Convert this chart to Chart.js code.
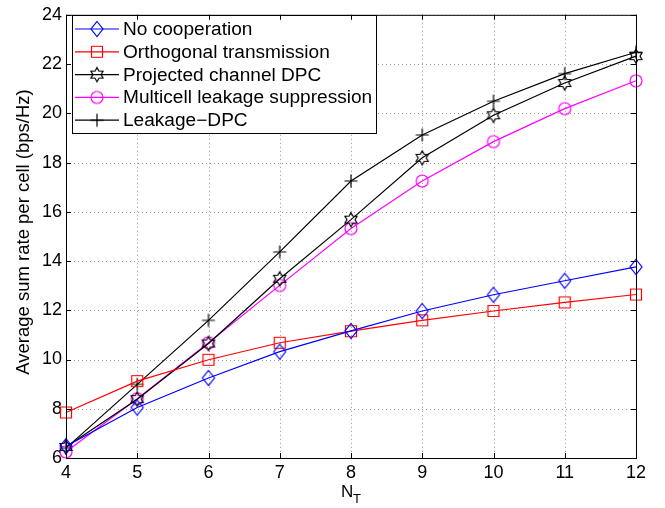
<!DOCTYPE html>
<html>
<head>
<meta charset="utf-8">
<script src="https://cdn.jsdelivr.net/npm/chart.js@4.4.1/dist/chart.umd.min.js"></script>
<style>
  html, body { margin: 0; padding: 0; background: #fff; }
  #wrap { width: 665px; height: 508px; }
</style>
</head>
<body>
<div id="wrap"><canvas id="grafico"></canvas></div>
<script>
const nt = [4, 5, 6, 7, 8, 9, 10, 11, 12];
const semCooperacao = [6.48, 8.05, 9.25, 10.32, 11.16, 11.97, 12.63, 13.2, 13.76];
const ortogonal = [7.85, 9.12, 9.99, 10.68, 11.15, 11.59, 11.97, 12.32, 12.64];
const dpcProjetado = [6.45, 8.39, 10.65, 13.28, 15.68, 18.19, 19.92, 21.23, 22.32];
const supressaoVazamento = [6.25, 8.41, 10.68, 13.01, 15.32, 17.25, 18.85, 20.19, 21.32];
const vazamentoDpc = [6.4, 8.99, 11.59, 14.37, 17.25, 19.12, 20.49, 21.61, 22.48];
const yTicks = [6, 8, 10, 12, 14, 16, 18, 20, 22, 24];

const FONTE = 'Liberation Sans, Arial, sans-serif';

// marcadores estilo MATLAB desenhados em canvas pequenos
function marcador(tipo, cor) {
    const s = 18, c = s / 2;
    const cv = document.createElement('canvas');
    cv.width = s; cv.height = s;
    const g = cv.getContext('2d');
    g.strokeStyle = cor;
    g.lineWidth = 1.2;
    g.beginPath();
    if (tipo === 'diamante') {
        g.moveTo(c, c - 7.5); g.lineTo(c + 6, c); g.lineTo(c, c + 7.5); g.lineTo(c - 6, c); g.closePath();
    } else if (tipo === 'quadrado') {
        g.rect(c - 5.5, c - 5.5, 11, 11);
    } else if (tipo === 'circulo') {
        g.arc(c, c, 6, 0, Math.PI * 2);
    } else if (tipo === 'mais') {
        g.moveTo(c - 6.5, c); g.lineTo(c + 6.5, c);
        g.moveTo(c, c - 6.5); g.lineTo(c, c + 6.5);
    } else if (tipo === 'hexagrama') {
        const R = 7, r = R / Math.sqrt(3);
        for (let i = 0; i < 12; i++) {
            const a = -Math.PI / 2 + i * Math.PI / 6;
            const rr = i % 2 === 0 ? R : r;
            const px = c + rr * Math.cos(a), py = c + rr * Math.sin(a);
            if (i === 0) g.moveTo(px, py); else g.lineTo(px, py);
        }
        g.closePath();
    }
    g.stroke();
    return cv;
}

function serie(label, dados, cor, tipo) {
    return {
        label: label,
        data: dados,
        borderColor: cor,
        backgroundColor: cor,
        borderWidth: 1.2,
        pointStyle: marcador(tipo, cor),
        pointRadius: 9,
        pointHoverRadius: 9,
        tension: 0,
        fill: false
    };
}

const legendaInterna = {
    id: 'legendaInterna',
    afterDatasetsDraw(chart) {
        const ctx = chart.ctx;
        const x0 = 72, y0 = 15, w = 304, h = 118;
        ctx.save();
        ctx.fillStyle = '#fff';
        ctx.fillRect(x0, y0, w, h);
        ctx.strokeStyle = '#000';
        ctx.lineWidth = 1;
        ctx.strokeRect(x0 + 0.5, y0 + 0.5, w, h);
        ctx.font = '18px ' + FONTE;
        ctx.textBaseline = 'middle';
        chart.data.datasets.forEach((ds, i) => {
            const y = y0 + 14 + i * 22.8;
            ctx.strokeStyle = ds.borderColor;
            ctx.lineWidth = 1.2;
            ctx.beginPath();
            ctx.moveTo(75, y); ctx.lineTo(119, y);
            ctx.stroke();
            ctx.drawImage(ds.pointStyle, 97 - 9, y - 9);
            ctx.fillStyle = '#000';
            ctx.save();
            ctx.translate(123, y + 1);
            ctx.scale(1.06, 1);
            ctx.fillText(ds.label, 0, 0);
            ctx.restore();
        });
        ctx.restore();
    }
};

const eixosMatlab = {
    id: 'eixosMatlab',
    beforeDatasetsDraw(chart) {
        const ctx = chart.ctx, a = chart.chartArea;
        const sx = chart.scales.x, sy = chart.scales.y;
        ctx.save();
        ctx.strokeStyle = '#999';
        ctx.lineWidth = 1;
        ctx.setLineDash([1, 3]);
        nt.forEach(v => {
            const px = Math.round(sx.getPixelForValue(v)) + 0.5;
            ctx.beginPath(); ctx.moveTo(px, a.top); ctx.lineTo(px, a.bottom); ctx.stroke();
        });
        yTicks.forEach(v => {
            const py = Math.round(sy.getPixelForValue(v)) + 0.5;
            ctx.beginPath(); ctx.moveTo(a.left, py); ctx.lineTo(a.right, py); ctx.stroke();
        });
        ctx.restore();
    },
    afterDraw(chart) {
        const ctx = chart.ctx, a = chart.chartArea;
        const sx = chart.scales.x, sy = chart.scales.y;
        ctx.save();
        ctx.strokeStyle = '#000';
        ctx.lineWidth = 1;
        ctx.strokeRect(a.left + 0.5, a.top + 0.5, a.right - a.left, a.bottom - a.top);
        ctx.beginPath();
        nt.forEach(v => {
            const px = Math.round(sx.getPixelForValue(v)) + 0.5;
            ctx.moveTo(px, a.bottom); ctx.lineTo(px, a.bottom - 5);
            ctx.moveTo(px, a.top); ctx.lineTo(px, a.top + 5);
        });
        yTicks.forEach(v => {
            const py = Math.round(sy.getPixelForValue(v)) + 0.5;
            ctx.moveTo(a.left, py); ctx.lineTo(a.left + 5, py);
            ctx.moveTo(a.right, py); ctx.lineTo(a.right - 5, py);
        });
        ctx.stroke();

        // títulos dos eixos
        ctx.fillStyle = '#000';
        ctx.font = '18.5px ' + FONTE;
        ctx.textAlign = 'center';
        ctx.textBaseline = 'middle';
        ctx.save();
        ctx.translate(24, 232);
        ctx.rotate(-Math.PI / 2);
        ctx.fillText('Average sum rate per cell (bps/Hz)', 0, 0);
        ctx.restore();
        ctx.textAlign = 'left';
        ctx.font = '17px ' + FONTE;
        ctx.fillText('N', 341, 492);
        ctx.font = '13px ' + FONTE;
        ctx.fillText('T', 353, 499);
        ctx.restore();
    }
};

const ctxGrafico = document.getElementById('grafico').getContext('2d');
new Chart(ctxGrafico, {
    type: 'line',
    data: {
        datasets: [
            serie('No cooperation', nt.map((x, i) => ({ x: x, y: semCooperacao[i] })), '#0000ff', 'diamante'),
            serie('Orthogonal transmission', nt.map((x, i) => ({ x: x, y: ortogonal[i] })), '#ff0000', 'quadrado'),
            serie('Projected channel DPC', nt.map((x, i) => ({ x: x, y: dpcProjetado[i] })), '#000000', 'hexagrama'),
            serie('Multicell leakage suppression', nt.map((x, i) => ({ x: x, y: supressaoVazamento[i] })), '#ff00ff', 'circulo'),
            serie('Leakage\u2212DPC', nt.map((x, i) => ({ x: x, y: vazamentoDpc[i] })), '#000000', 'mais')
        ]
    },
    options: {
        responsive: true,
        maintainAspectRatio: false,
        animation: false,
        clip: false,
        layout: { padding: { top: 8, right: 29, left: 0, bottom: 0 } },
        plugins: {
            legend: { display: false },
            tooltip: { enabled: false }
        },
        scales: {
            x: {
                type: 'linear',
                min: 4,
                max: 12,
                afterFit: s => { s.height = 50; },
                afterBuildTicks: s => { s.ticks = nt.map(v => ({ value: v })); },
                grid: { display: false, drawTicks: false, tickLength: 0 },
                border: { display: false },
                ticks: { color: '#000', font: { family: FONTE, size: 18 }, padding: 4, maxRotation: 0 }
            },
            y: {
                min: 6,
                max: 24,
                afterFit: s => { s.width = 66; },
                afterBuildTicks: s => { s.ticks = yTicks.map(v => ({ value: v })); },
                grid: { display: false, drawTicks: false, tickLength: 0 },
                border: { display: false },
                ticks: { color: '#000', font: { family: FONTE, size: 18 }, padding: 4 }
            }
        }
    },
    plugins: [eixosMatlab, legendaInterna]
});
</script>
</body>
</html>
